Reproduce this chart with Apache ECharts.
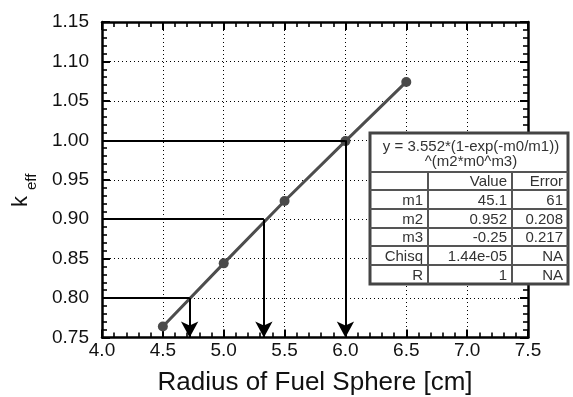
<!DOCTYPE html>
<html><head><meta charset="utf-8">
<script src="https://cdn.jsdelivr.net/npm/echarts@6/dist/echarts.min.js"></script>
<style>html,body{margin:0;padding:0;background:#fff}#chart{width:573px;height:397px}</style>
</head><body><div id="chart"></div>
<script>
// Measured k_eff against fuel-sphere radius
const radius = [4.5, 5.0, 5.5, 6.0, 6.5];
const keff = [0.764, 0.844, 0.923, 0.999, 1.074];

// Read-off guides: target k_eff and the radius where the curve reaches it
const targetK = [0.80, 0.90, 1.00];
const guideRadius = [4.72, 5.33, 6.0];

// Fit summary table
const fitTitle = ['y = 3.552*(1-exp(-m0/m1))', '^(m2*m0^m3)'];
const fitHeader = ['', 'Value', 'Error'];
const fitNames = ['m1', 'm2', 'm3', 'Chisq', 'R'];
const fitValues = ['45.1', '0.952', '-0.25', '1.44e-05', '1'];
const fitErrors = ['61', '0.208', '0.217', 'NA', 'NA'];

const FONT = 'Liberation Sans, Arial, Helvetica, sans-serif';
const X_MIN = 4.0, X_MAX = 7.5, Y_MIN = 0.75, Y_MAX = 1.15;

const chart = echarts.init(document.getElementById('chart'), null, {renderer: 'canvas'});

function axisCommon(isX, showLabel) {
  return {
    type: 'value',
    min: isX ? X_MIN : Y_MIN,
    max: isX ? X_MAX : Y_MAX,
    interval: isX ? 0.5 : 0.05,
    axisLine: {show: true, onZero: false, lineStyle: {color: '#000', width: 2.5}},
    axisTick: {show: true, inside: true, length: 8, lineStyle: {color: '#000', width: 2}},
    minorTick: {show: true, splitNumber: 5, length: 5, lineStyle: {color: '#000', width: 1.6}},
    splitLine: {show: showLabel, lineStyle: {color: '#000', width: 1, type: [1, 3]}},
    axisLabel: {
      show: showLabel, color: '#111', fontSize: 19, fontFamily: FONT,
      margin: isX ? 4 : 13, showMinLabel: true, showMaxLabel: true,
      formatter: v => isX ? v.toFixed(1) : v.toFixed(2)
    }
  };
}

// Guide segments: horizontal from the k_eff axis, then down to the radius axis with an arrow
const guideLines = [];
targetK.forEach((k, i) => {
  const r = guideRadius[i];
  guideLines.push([{coord: [X_MIN, k], symbol: 'none'}, {coord: [r, k], symbol: 'none'}]);
  guideLines.push([{coord: [r, k], symbol: 'none'}, {coord: [r, Y_MIN], symbol: 'arrow', symbolSize: [13, 16]}]);
});

// Fit table layout (pixels)
const tblX = [370, 428, 512, 568];
const tblY = [133, 172, 190, 209, 228, 246, 265, 284];
const tableEls = [];
tableEls.push({type: 'rect', shape: {x: tblX[0], y: tblY[0], width: tblX[3] - tblX[0], height: tblY[7] - tblY[0]},
  style: {fill: '#fff', stroke: '#444', lineWidth: 3}, z: 100});
for (let j = 1; j < tblY.length - 1; j++) {
  tableEls.push({type: 'line', shape: {x1: tblX[0], y1: tblY[j], x2: tblX[3], y2: tblY[j]},
    style: {stroke: '#555', lineWidth: 2}, z: 101});
}
for (let c = 1; c < 3; c++) {
  tableEls.push({type: 'line', shape: {x1: tblX[c], y1: tblY[1], x2: tblX[c], y2: tblY[7]},
    style: {stroke: '#555', lineWidth: 2}, z: 101});
}
const cellText = (txt, c, r) => ({
  type: 'text', z: 102,
  style: {text: txt, x: tblX[c + 1] - 5, y: (tblY[r] + tblY[r + 1]) / 2 + 1, align: 'right', verticalAlign: 'middle',
    fill: '#333', font: '15px ' + FONT}
});
const midX = (tblX[0] + tblX[3]) / 2;
fitTitle.forEach((t, i) => {
  tableEls.push({type: 'text', z: 102, style: {text: t, x: midX + 2, y: tblY[0] + 14 + i * 15,
    align: 'center', verticalAlign: 'middle', fill: '#333', font: '15px ' + FONT}});
});
fitHeader.forEach((t, c) => { if (t) tableEls.push(cellText(t, c, 1)); });
fitNames.forEach((n, i) => {
  tableEls.push(cellText(n, 0, i + 2));
  tableEls.push(cellText(fitValues[i], 1, i + 2));
  tableEls.push(cellText(fitErrors[i], 2, i + 2));
});

// Vertical axis title k_eff (rotated, with subscript)
const yTitle = {
  type: 'group', x: 20.5, y: 207, rotation: Math.PI / 2,
  children: [
    {type: 'text', style: {text: 'k', x: 0, y: 0, align: 'left', verticalAlign: 'middle', fill: '#111', font: '22px ' + FONT}},
    {type: 'text', style: {text: 'eff', x: 17, y: 11, align: 'left', verticalAlign: 'middle', fill: '#111', font: '15px ' + FONT}}
  ]
};

const option = {
  backgroundColor: '#fff',
  animation: false,
  grid: {left: 102, right: 45, top: 22, bottom: 59.5, containLabel: false, outerBoundsMode: 'none'},
  xAxis: [
    Object.assign(axisCommon(true, true), {
      position: 'bottom', name: 'Radius of Fuel Sphere [cm]', nameLocation: 'middle', nameGap: 32,
      nameTextStyle: {fontSize: 26, color: '#111', fontFamily: FONT}
    }),
    Object.assign(axisCommon(true, false), {position: 'top'})
  ],
  yAxis: [
    Object.assign(axisCommon(false, true), {position: 'left'}),
    Object.assign(axisCommon(false, false), {position: 'right'})
  ],
  series: [
    {
      type: 'line', data: [], z: 2,
      markLine: {
        silent: true, animation: false,
        lineStyle: {color: '#000', width: 2, type: 'solid'},
        label: {show: false},
        data: guideLines
      }
    },
    {
      type: 'line', z: 3,
      data: radius.map((r, i) => [r, keff[i]]),
      lineStyle: {color: '#4d4d4d', width: 3},
      itemStyle: {color: '#4a4a4a'},
      symbol: 'circle', symbolSize: 10, showSymbol: true
    }
  ],
  graphic: tableEls.concat([yTitle])
};
chart.setOption(option);
</script></body></html>
